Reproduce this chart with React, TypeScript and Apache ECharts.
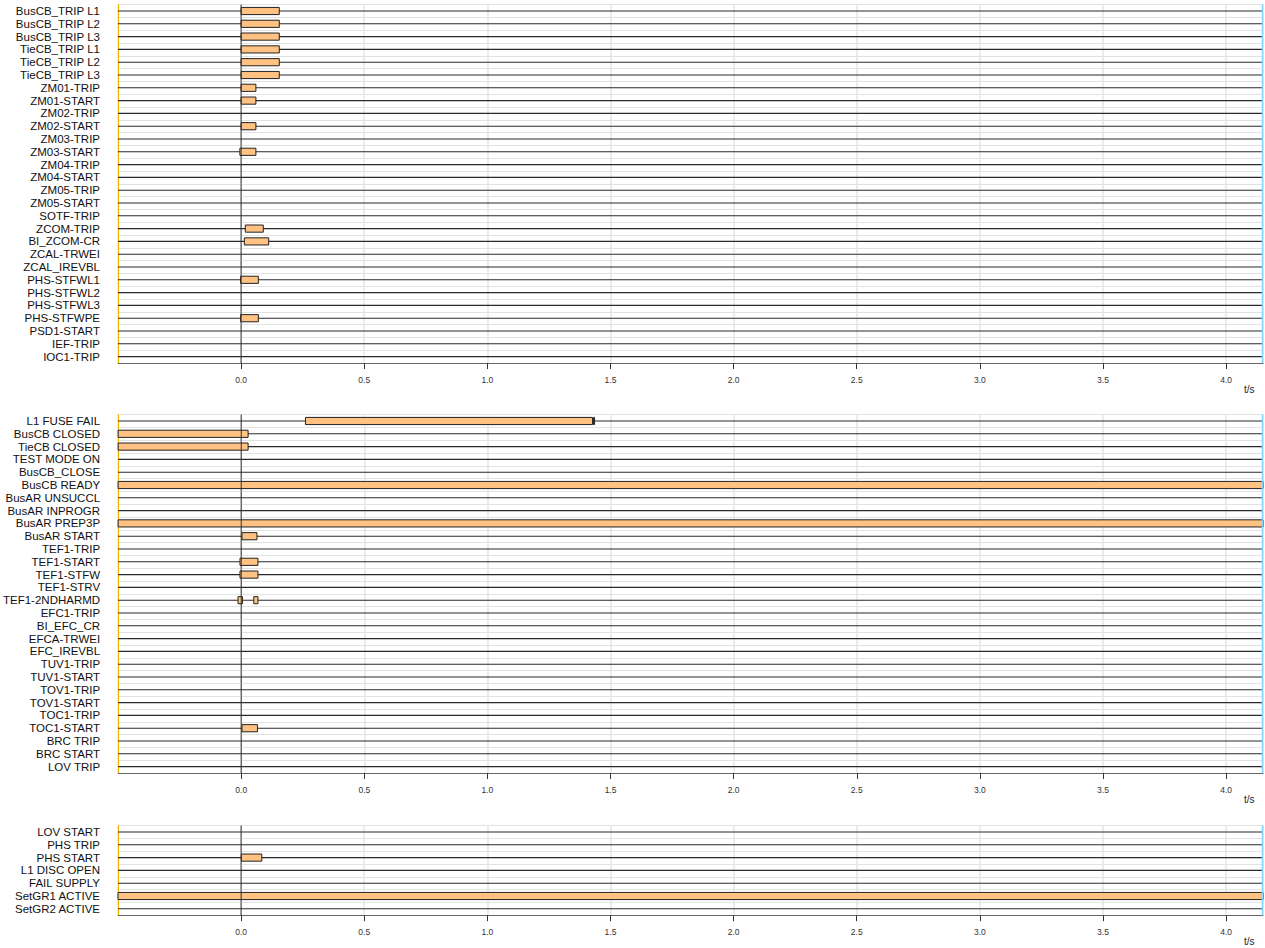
import React, { useEffect, useRef } from "react";
import * as echarts from "echarts";

const X_MIN = -0.5;
const X_MAX = 4.15;
const TICK_STEP = 0.5;

const panel1Labels = [
  "BusCB_TRIP L1", "BusCB_TRIP L2", "BusCB_TRIP L3", "TieCB_TRIP L1", "TieCB_TRIP L2", "TieCB_TRIP L3",
  "ZM01-TRIP", "ZM01-START", "ZM02-TRIP", "ZM02-START", "ZM03-TRIP", "ZM03-START", "ZM04-TRIP",
  "ZM04-START", "ZM05-TRIP", "ZM05-START", "SOTF-TRIP", "ZCOM-TRIP", "BI_ZCOM-CR", "ZCAL-TRWEI",
  "ZCAL_IREVBL", "PHS-STFWL1", "PHS-STFWL2", "PHS-STFWL3", "PHS-STFWPE", "PSD1-START", "IEF-TRIP",
  "IOC1-TRIP",
];

// [signal, start (s), end (s)]
const panel1Events: [string, number, number][] = [
  ["BusCB_TRIP L1", 0.0, 0.155],
  ["BusCB_TRIP L2", 0.0, 0.155],
  ["BusCB_TRIP L3", 0.0, 0.155],
  ["TieCB_TRIP L1", 0.0, 0.155],
  ["TieCB_TRIP L2", 0.0, 0.155],
  ["TieCB_TRIP L3", 0.0, 0.155],
  ["ZM01-TRIP", 0.0, 0.06],
  ["ZM01-START", 0.0, 0.06],
  ["ZM02-START", 0.0, 0.06],
  ["ZM03-START", -0.005, 0.06],
  ["ZCOM-TRIP", 0.017, 0.09],
  ["BI_ZCOM-CR", 0.013, 0.112],
  ["PHS-STFWL1", -0.002, 0.07],
  ["PHS-STFWPE", -0.002, 0.07],
];

const panel2Labels = [
  "L1 FUSE FAIL", "BusCB CLOSED", "TieCB CLOSED", "TEST MODE ON", "BusCB_CLOSE", "BusCB READY",
  "BusAR UNSUCCL", "BusAR INPROGR", "BusAR PREP3P", "BusAR START", "TEF1-TRIP", "TEF1-START",
  "TEF1-STFW", "TEF1-STRV", "TEF1-2NDHARMD", "EFC1-TRIP", "BI_EFC_CR", "EFCA-TRWEI", "EFC_IREVBL",
  "TUV1-TRIP", "TUV1-START", "TOV1-TRIP", "TOV1-START", "TOC1-TRIP", "TOC1-START", "BRC TRIP",
  "BRC START", "LOV TRIP",
];

const panel2Events: [string, number, number][] = [
  ["L1 FUSE FAIL", 0.261, 1.427],
  ["L1 FUSE FAIL", 1.431, 1.435],
  ["BusCB CLOSED", X_MIN, 0.028],
  ["TieCB CLOSED", X_MIN, 0.028],
  ["BusCB READY", X_MIN, X_MAX],
  ["BusAR PREP3P", X_MIN, X_MAX],
  ["BusAR START", 0.003, 0.064],
  ["TEF1-START", -0.005, 0.068],
  ["TEF1-STFW", -0.005, 0.068],
  ["TEF1-2NDHARMD", -0.013, 0.005],
  ["TEF1-2NDHARMD", 0.051, 0.068],
  ["TOC1-START", 0.003, 0.066],
];

const panel3Labels = [
  "LOV START", "PHS TRIP", "PHS START", "L1 DISC OPEN", "FAIL SUPPLY", "SetGR1 ACTIVE", "SetGR2 ACTIVE",
];

const panel3Events: [string, number, number][] = [
  ["PHS START", 0.001, 0.084],
  ["SetGR1 ACTIVE", X_MIN, X_MAX],
];

const ROW_H = 12.8;
const FONT = "'Liberation Sans', Arial, sans-serif";

export default function App() {
  const ref = useRef<HTMLDivElement>(null);

  useEffect(() => {
    document.body.style.margin = "0";
    if (!ref.current) return;
    const chart = echarts.init(ref.current, undefined, { renderer: "svg" });

    const panels = [
      { labels: panel1Labels, events: panel1Events, top: 4.6 },
      { labels: panel2Labels, events: panel2Events, top: 414.6 },
      { labels: panel3Labels, events: panel3Events, top: 825.6 },
    ];

    const grid: any[] = [];
    const xAxis: any[] = [];
    const yAxis: any[] = [];
    const series: any[] = [];
    const graphic: any[] = [];

    panels.forEach((p, gi) => {
      const height = p.labels.length * ROW_H;
      grid.push({ left: 118, right: 2, top: p.top, height });
      xAxis.push({
        type: "value",
        gridIndex: gi,
        min: X_MIN,
        max: X_MAX,
        interval: TICK_STEP,
        axisLine: { show: true, onZero: false, lineStyle: { color: "#666", width: 1 } },
        axisTick: { show: true, length: 6, lineStyle: { color: "#333" } },
        axisLabel: {
          show: true,
          margin: 12,
          fontSize: 8.5,
          color: "#333",
          fontFamily: FONT,
          showMinLabel: false,
          showMaxLabel: false,
          formatter: (v: number) => {
            const k = v / TICK_STEP;
            if (v < -1e-6 || Math.abs(k - Math.round(k)) > 1e-6) return "";
            return v.toFixed(1);
          },
        },
        splitLine: { show: true, lineStyle: { color: "#e6e6e6", width: 1.5 } },
      });
      yAxis.push({
        type: "category",
        gridIndex: gi,
        inverse: true,
        data: p.labels,
        boundaryGap: true,
        axisLine: { show: true, onZero: false, lineStyle: { color: "#f0b400", width: 1 } },
        axisTick: { show: false },
        axisLabel: { interval: 0, margin: 18, fontSize: 11.5, color: "#111", fontFamily: FONT },
        splitLine: { show: true, interval: 0, lineStyle: { color: "#e2e2e2", width: 1 } },
      });

      const rowData = p.labels.map((_, i) => [i, X_MIN, X_MAX]);

      // row base lines
      series.push({
        type: "custom",
        xAxisIndex: gi,
        yAxisIndex: gi,
        silent: true,
        z: 2,
        data: rowData,
        encode: { x: [1, 2], y: 0 },
        renderItem: (params: any, api: any) => {
          const a = api.coord([api.value(1), api.value(0)]);
          const b = api.coord([api.value(2), api.value(0)]);
          return {
            type: "line",
            shape: { x1: a[0], y1: a[1], x2: b[0], y2: b[1] },
            style: { stroke: "#2a2a2a", lineWidth: 1.1 },
          };
        },
      });

      // event bars
      series.push({
        type: "custom",
        xAxisIndex: gi,
        yAxisIndex: gi,
        silent: true,
        z: 3,
        data: p.events.map((e) => [p.labels.indexOf(e[0]), e[1], e[2]]),
        encode: { x: [1, 2], y: 0 },
        renderItem: (params: any, api: any) => {
          const a = api.coord([api.value(1), api.value(0)]);
          const b = api.coord([api.value(2), api.value(0)]);
          const h = api.size([0, 1])[1] * 0.56;
          return {
            type: "rect",
            shape: { x: a[0], y: a[1] - h / 2, width: Math.max(b[0] - a[0], 1), height: h },
            style: { fill: "#ffc283", stroke: "#222", lineWidth: 1 },
          };
        },
      });

      // zero line and right edge marker, drawn as per-row vertical segments
      series.push({
        type: "custom",
        xAxisIndex: gi,
        yAxisIndex: gi,
        silent: true,
        z: 4,
        data: rowData,
        encode: { x: [1, 2], y: 0 },
        renderItem: (params: any, api: any) => {
          const c0 = api.coord([0, api.value(0)]);
          const cR = api.coord([api.value(2), api.value(0)]);
          const hh = api.size([0, 1])[1] / 2;
          return {
            type: "group",
            children: [
              {
                type: "line",
                shape: { x1: c0[0], y1: c0[1] - hh, x2: c0[0], y2: c0[1] + hh },
                style: { stroke: "#333", lineWidth: 1 },
              },
              {
                type: "line",
                shape: { x1: cR[0] - 0.5, y1: cR[1] - hh, x2: cR[0] - 0.5, y2: cR[1] + hh },
                style: { stroke: "#7fd4ff", lineWidth: 1.5 },
              },
            ],
          };
        },
      });

      graphic.push({
        type: "text",
        left: 1244,
        top: p.top + height + 21,
        style: { text: "t/s", fontSize: 10, fill: "#222", fontFamily: FONT },
      });
    });

    chart.setOption({
      animation: false,
      grid,
      xAxis,
      yAxis,
      series,
      graphic,
    });

    return () => chart.dispose();
  }, []);

  return <div ref={ref} style={{ width: 1265, height: 948 }} />;
}
